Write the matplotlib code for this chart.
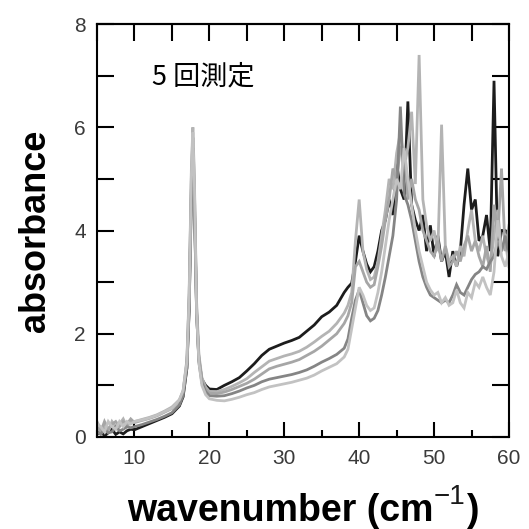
import matplotlib
matplotlib.use("Agg")
import matplotlib.pyplot as plt
import numpy as np
from matplotlib.ticker import MultipleLocator, FixedLocator

# ---------------- data ----------------
wavenumber = [5, 5.5, 6, 6.5, 7, 7.5, 8, 8.5, 9, 9.5, 10,
              11, 12, 13, 14, 15, 16,
              16.5, 17, 17.3, 17.6, 17.8, 18.0, 18.3, 18.6, 19, 19.5,
              20, 21, 22, 23, 24, 25, 26, 27, 28, 29, 30, 31, 32, 33, 34, 35, 36, 37, 38,
              38.5, 39, 39.5, 40, 40.5, 41, 41.5, 42, 42.5, 43,
              43.5, 44, 44.5, 45, 45.5, 46, 46.5, 47, 47.5, 48,
              48.5, 49, 49.5, 50, 50.5, 51, 51.5, 52, 52.5, 53,
              53.5, 54, 54.5, 55, 55.5, 56, 56.5, 57, 57.5, 58,
              58.5, 59, 59.5, 60]

run1 = [0.05, 0.12, 0.02, 0.08, 0.15, 0.05, 0.10, 0.06, 0.12, 0.15, 0.14,
        0.20, 0.26, 0.32, 0.38, 0.45, 0.60,
        0.78, 1.33, 2.45, 4.7, 5.4, 4.5, 2.38, 1.5, 1.12, 1.0,
        0.93, 0.92, 1.00, 1.07, 1.15, 1.28, 1.42, 1.58, 1.70, 1.76, 1.82, 1.87, 1.93, 2.05, 2.17, 2.33, 2.42, 2.55, 2.80,
        2.90, 2.98, 3.4, 3.9, 3.6, 3.35, 3.2, 3.3, 3.6, 4.0,
        4.2, 4.6, 4.3, 5.3, 4.8, 4.6, 6.5, 4.5, 4.2, 4.0,
        4.3, 3.6, 4.1, 3.5, 3.9, 3.4, 3.6, 3.1, 3.6, 3.3,
        3.6, 4.5, 5.2, 4.4, 4.6, 3.8, 3.9, 4.3, 3.6, 6.9,
        3.5, 4.0, 4.0, 3.9]

run2 = [0.30, 0.15, 0.25, 0.10, 0.30, 0.20, 0.25, 0.35, 0.20, 0.30, 0.30,
        0.34, 0.38, 0.43, 0.50, 0.58, 0.72,
        0.90, 1.50, 2.80, 5.20, 6.00, 5.00, 2.60, 1.60, 1.15, 0.97,
        0.88, 0.88, 0.92, 0.98, 1.05, 1.13, 1.25, 1.36, 1.47, 1.52, 1.57, 1.61, 1.66, 1.74, 1.84, 1.95, 2.05, 2.20, 2.40,
        2.55, 2.80, 3.8, 4.6, 3.6, 3.25, 3.05, 3.1, 3.4, 3.9,
        4.4, 5.0, 4.8, 5.5, 5.9, 5.3, 5.6, 6.3, 4.9, 7.4,
        4.6, 4.1, 3.8, 4.0, 3.6, 6.05, 3.7, 3.4, 3.5, 3.3,
        3.7, 3.5, 4.0, 4.4, 3.8, 3.6, 3.9, 3.5, 3.3, 3.9,
        4.4, 3.6, 3.8, 3.3]

run3 = [0.20, 0.10, 0.30, 0.15, 0.25, 0.30, 0.20, 0.30, 0.25, 0.35, 0.28,
        0.32, 0.36, 0.41, 0.48, 0.55, 0.70,
        0.88, 1.45, 2.70, 5.00, 5.80, 4.80, 2.50, 1.55, 1.10, 0.93,
        0.85, 0.84, 0.87, 0.92, 0.98, 1.04, 1.12, 1.22, 1.32, 1.37, 1.41, 1.45, 1.50, 1.58, 1.66, 1.76, 1.88, 2.00, 2.20,
        2.35, 2.60, 3.3, 3.4, 3.2, 3.0, 2.9, 2.95, 3.3, 3.7,
        4.2, 4.6, 5.2, 5.0, 5.6, 5.5, 4.6, 5.0, 4.6, 4.4,
        4.0, 3.8, 3.6, 3.5, 3.8, 3.4, 3.7, 3.3, 3.4, 3.6,
        3.4, 3.7, 3.9, 3.6, 3.8, 3.5, 3.3, 3.7, 3.2, 4.5,
        3.9, 5.2, 3.6, 4.1]

run4 = [0.10, 0.05, 0.15, 0.08, 0.10, 0.20, 0.12, 0.15, 0.20, 0.18, 0.20,
        0.24, 0.29, 0.34, 0.40, 0.47, 0.62,
        0.80, 1.35, 2.50, 4.80, 5.60, 4.60, 2.40, 1.45, 1.05, 0.88,
        0.80, 0.79, 0.80, 0.84, 0.89, 0.95, 1.00, 1.07, 1.12, 1.15, 1.18, 1.21, 1.25, 1.30, 1.37, 1.45, 1.52, 1.60, 1.72,
        1.90, 2.30, 2.65, 2.85, 2.6, 2.35, 2.25, 2.3, 2.45, 2.75,
        3.1, 3.5, 3.9, 4.6, 6.4, 4.7, 4.5, 4.2, 3.8, 3.4,
        3.1, 2.9, 2.75, 2.7, 2.65, 2.6, 2.65, 2.6, 2.75, 2.95,
        2.8, 2.75, 2.9, 3.05, 3.15, 3.2, 3.3, 3.25, 3.4, 3.5,
        3.8, 3.6, 3.9, 3.5]

run5 = [0.25, 0.20, 0.10, 0.30, 0.20, 0.15, 0.30, 0.20, 0.30, 0.25, 0.30,
        0.33, 0.37, 0.42, 0.49, 0.56, 0.72,
        0.90, 1.45, 2.70, 5.10, 5.90, 4.90, 2.40, 1.45, 1.00, 0.82,
        0.74, 0.71, 0.70, 0.73, 0.77, 0.82, 0.86, 0.92, 0.97, 1.00, 1.03, 1.06, 1.10, 1.14, 1.20, 1.28, 1.35, 1.42, 1.55,
        1.70, 2.10, 2.5, 2.9, 2.75, 2.55, 2.45, 2.5, 2.8, 3.2,
        3.7, 4.2, 4.6, 5.0, 4.8, 5.6, 5.0, 4.5, 4.0, 3.6,
        3.3, 3.0, 2.85, 2.75, 2.8, 2.6, 2.7, 2.55, 2.6, 2.85,
        2.6, 2.5, 2.8, 2.7, 3.0, 2.9, 3.1, 2.9, 2.75, 3.2,
        4.2, 3.5, 3.3, 3.6]

series = [run1, run2, run3, run4, run5]
colors = ["#1c1c1c", "#b4b4b4", "#a6a6a6", "#858585", "#c2c2c2"]

x_ticks = [10, 20, 30, 40, 50, 60]
y_ticks = [0, 2, 4, 6, 8]
title_text = "5 回測定"

# ---------------- figure ----------------
W = H = 529
fig = plt.figure(figsize=(W / 100, H / 100), dpi=100)
ax = fig.add_axes([97 / W, 1 - 437 / H, 412 / W, 413 / H])

for ys, c in zip(series, colors):
    ax.plot(wavenumber, ys, color=c, lw=2.0, solid_joinstyle="miter")

ax.set_xlim(5, 60)
ax.set_ylim(0, 8)

ax.xaxis.set_major_locator(FixedLocator(x_ticks))
ax.xaxis.set_minor_locator(MultipleLocator(5))
ax.yaxis.set_major_locator(FixedLocator(y_ticks))
ax.yaxis.set_minor_locator(MultipleLocator(1))

ax.tick_params(axis="x", which="major", direction="in", length=11, width=1.5,
               top=False, pad=9, labelcolor="#3a3a3a")
ax.tick_params(axis="x", which="minor", direction="in", length=5, width=1.5,
               top=False)
ax.tick_params(axis="y", which="both", direction="in", length=12.5, width=1.5,
               left=True, right=True, pad=8, labelcolor="#3a3a3a")
for lab in ax.get_xticklabels() + ax.get_yticklabels():
    lab.set_fontfamily("Liberation Sans")
    lab.set_fontsize(15)

sec = ax.secondary_xaxis("top")
sec.xaxis.set_major_locator(MultipleLocator(5))
sec.tick_params(axis="x", direction="in", length=12.5, width=1.5, labeltop=False)
sec.spines["top"].set_linewidth(1.5)

for s in ax.spines.values():
    s.set_linewidth(1.5)

# axis labels
fig.text(127 / W, 1 - 521 / H, "wavenumber (cm", ha="left", va="baseline",
         fontfamily="Liberation Sans", fontweight="bold", fontsize=27)
fig.text(434 / W, 1 - 504 / H, "\u22121", ha="left", va="baseline",
         fontfamily="Liberation Sans", fontsize=20, color="#1a1a1a")
fig.text(466 / W, 1 - 521 / H, ")", ha="left", va="baseline",
         fontfamily="Liberation Sans", fontweight="bold", fontsize=27)

fig.text(45 / W, 1 - 231 / H, "absorbance", rotation=90, rotation_mode="anchor",
         ha="center", va="baseline",
         fontfamily="Liberation Sans", fontweight="bold", fontsize=26)

fig.text(152 / W, 1 - 77 / H, title_text, ha="left", va="center",
         fontfamily=["Noto Sans CJK JP", "DejaVu Sans"], fontsize=19.5)

fig.savefig("out.png", dpi=100)
